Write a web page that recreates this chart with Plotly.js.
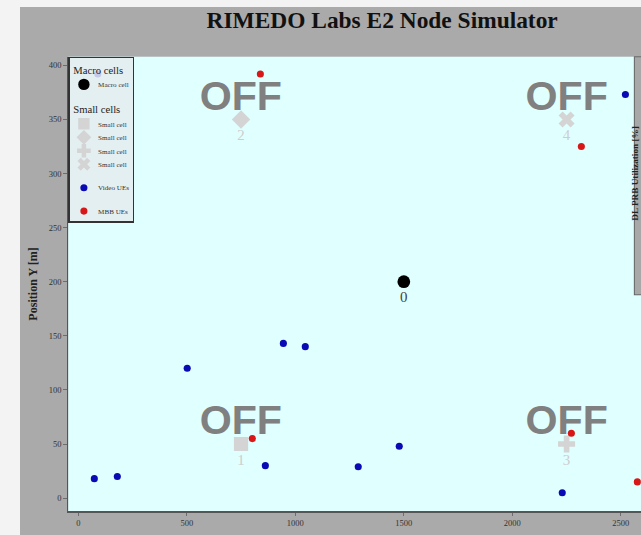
<!DOCTYPE html>
<html>
<head>
<meta charset="utf-8">
<script src="https://cdn.plot.ly/plotly-3.0.1.min.js"></script>
<style>
html,body{margin:0;padding:0;background:#f3f3f3;width:641px;height:535px;overflow:hidden;}
#chart{position:absolute;left:20px;top:7px;width:875px;height:744px;transform:scale(0.71);transform-origin:0 0;}
</style>
</head>
<body>
<div id="chart"></div>
<script>
// Macro cell
const macroX = [1500];
const macroY = [200];
const macroLabels = ["0"];

// Small cells
const smallX = [750, 750, 2250, 2250];
const smallY = [50, 350, 50, 350];
const smallLabels = ["1", "2", "3", "4"];
const smallSymbols = ["square", "diamond", "cross", "x"];
const smallState = ["OFF", "OFF", "OFF", "OFF"];

// Video UEs (blue)
const videoX = [90, 2521, 502, 945, 1046, 74, 180, 862, 1290, 1479, 2230];
const videoY = [392, 373, 120, 143, 140, 18, 20, 30, 29, 48, 5];

// MBB UEs (red)
const mbbX = [839, 2318, 802, 2272, 2576];
const mbbY = [392, 325, 55, 60, 15];

const serif = "Liberation Serif, Times New Roman, serif";

const traces = [
  {
    type: "scatter", mode: "markers+text",
    x: macroX, y: macroY, text: macroLabels,
    textposition: "bottom center",
    textfont: {family: serif, size: 21, color: "#444"},
    marker: {color: "#000", size: 18},
    name: "Macro cell",
    legendgroup: "macro",
    legendgrouptitle: {text: "Macro cells", font: {family: serif, size: 15, color: "#222"}}
  }
];
for (let i = 0; i < smallX.length; i++) {
  traces.push({
    type: "scatter", mode: "markers+text",
    x: [smallX[i]], y: [smallY[i]], text: [smallLabels[i]],
    textposition: "bottom center",
    textfont: {family: serif, size: 21, color: "#cdcdcd"},
    marker: {color: "#d4d4d4", size: 20, symbol: smallSymbols[i], line: {width: 0}},
    name: "Small cell",
    legendgroup: "small",
    legendgrouptitle: {text: "Small cells", font: {family: serif, size: 15, color: "#222"}}
  });
}
traces.push({
  type: "scatter", mode: "markers",
  x: videoX, y: videoY,
  marker: {color: "#0a0ab4", size: 10},
  name: "Video UEs", legendgroup: "video"
});
traces.push({
  type: "scatter", mode: "markers",
  x: mbbX, y: mbbY,
  marker: {color: "#d81818", size: 10},
  name: "MBB UEs", legendgroup: "mbb"
});

const annotations = smallX.map((x, i) => ({
  x: x, y: smallY[i], xref: "x", yref: "y",
  text: "<b>" + smallState[i] + "</b>",
  showarrow: false, yshift: 34,
  font: {family: "Liberation Sans, Arial, sans-serif", size: 58, color: "#808080"}
}));
annotations.push({
  xref: "paper", yref: "paper", x: 1.0, xanchor: "right", y: 0.85,
  text: "<b>DL PRB Utilization [%]</b>", textangle: -90, showarrow: false,
  font: {family: serif, size: 13, color: "#222"}
});

const layout = {
  width: 875, height: 744,
  paper_bgcolor: "#aaaaaa",
  plot_bgcolor: "#e0ffff",
  margin: {l: 68, r: 0, t: 70, b: 34, pad: 0},
  title: {
    text: "<b>RIMEDO Labs E2 Node Simulator</b>",
    font: {family: serif, size: 33, color: "#111"},
    x: 0.583, xanchor: "center", xref: "container",
    y: 0.975, yanchor: "middle"
  },
  xaxis: {
    range: [-46, 2594], dtick: 500, tick0: 0,
    showgrid: false, zeroline: false,
    showline: true, linecolor: "#555", linewidth: 2,
    ticks: "outside", ticklen: 5, tickcolor: "#555",
    tickfont: {family: serif, size: 12, color: "#333"}
  },
  yaxis: {
    range: [-12, 408], dtick: 50, tick0: 0,
    showgrid: false, zeroline: false,
    showline: true, linecolor: "#555", linewidth: 2,
    ticks: "outside", ticklen: 5, tickcolor: "#555",
    tickfont: {family: serif, size: 12, color: "#333"},
    title: {text: "<b>Position Y [m]</b>", font: {family: serif, size: 17, color: "#222"}, standoff: 12}
  },
  showlegend: true,
  legend: {
    x: 0, y: 1, xanchor: "left", yanchor: "top",
    bgcolor: "rgba(228,236,240,0.85)",
    bordercolor: "#333", borderwidth: 2,
    font: {family: serif, size: 10, color: "#333"},
    tracegroupgap: 14, itemsizing: "trace"
  },
  annotations: annotations,
  shapes: [{
    type: "rect", xref: "paper", yref: "paper",
    x0: 0.988, x1: 1.01, y0: 0.476, y1: 1.0,
    fillcolor: "#a8a8a8", line: {color: "#666", width: 1.5}
  }]
};

Plotly.newPlot("chart", traces, layout, {displayModeBar: false, responsive: false});
</script>
</body>
</html>
